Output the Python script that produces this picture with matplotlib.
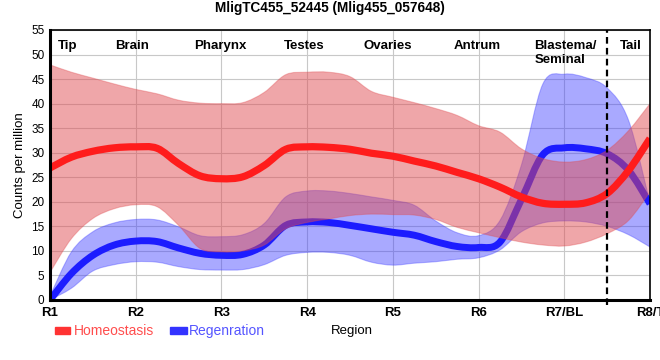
import numpy as np
import matplotlib.pyplot as plt
from matplotlib.patches import Rectangle, PathPatch
from matplotlib.path import Path

# positions along the body axis (R1 = 1 ... R8/T = 8), quarter steps
pos = np.linspace(1, 8, 29)

homeo_mean = [26.9, 29.1, 30.3, 31.0, 31.2, 30.9, 27.8, 25.3, 24.7, 25.1, 27.4, 30.7, 31.2, 31.1, 30.7,
              29.9, 29.3, 28.3, 27.3, 26.0, 24.7, 23.0, 21.0, 19.7, 19.5, 19.8, 21.7, 26.4, 32.9]
homeo_upper = [47.9, 46.4, 45.2, 44.0, 42.9, 42.0, 40.7, 40.1, 40.0, 40.2, 42.3, 45.9, 46.4, 46.4, 45.5,
               42.5, 41.3, 40.2, 39.0, 37.6, 35.5, 34.2, 30.8, 28.8, 28.1, 28.6, 30.5, 34.5, 40.0]
homeo_lower = [5.6, 12.5, 16.6, 18.6, 19.4, 19.0, 15.2, 10.5, 9.8, 10.0, 11.2, 14.5, 15.8, 16.5, 17.2,
               17.5, 17.4, 17.3, 16.4, 14.8, 13.7, 12.7, 11.8, 11.2, 11.0, 11.8, 13.5, 16.2, 22.0]

regen_mean = [0.0, 5.4, 9.1, 11.2, 12.0, 11.9, 10.6, 9.5, 9.1, 9.3, 11.2, 15.2, 15.9, 15.8, 15.2,
              14.5, 13.8, 13.2, 11.9, 10.9, 10.7, 11.8, 20.5, 29.6, 31.0, 30.8, 29.8, 26.4, 19.6]
regen_upper = [0.8, 9.8, 13.9, 15.7, 16.4, 16.3, 14.9, 13.1, 12.9, 13.3, 15.6, 21.0, 22.2, 22.2, 21.7,
               21.0, 20.3, 19.3, 16.1, 13.7, 13.1, 16.2, 27.5, 44.0, 46.0, 45.3, 43.2, 36.6, 19.8]
regen_lower = [0.0, 2.4, 5.9, 7.2, 7.8, 7.7, 6.8, 6.2, 6.1, 6.2, 7.2, 9.1, 9.7, 9.7, 9.1,
               7.7, 7.1, 7.5, 7.8, 8.3, 8.6, 10.2, 13.9, 15.7, 16.1, 15.9, 15.0, 13.3, 10.8]

tick_pos = [1, 2, 3, 4, 5, 6, 7, 8]
tick_labels = ['R1', 'R2', 'R3', 'R4', 'R5', 'R6', 'R7/BL', 'R8/T']
region_names = ['Tip', 'Brain', 'Pharynx', 'Testes', 'Ovaries', 'Antrum', 'Tail']
region_pos = [1.21, 1.96, 2.99, 3.96, 4.94, 5.98, 7.78]
blastema_pos = 6.65
split_pos = 7.5

narrow = ['Liberation Sans Narrow', 'Liberation Sans', 'DejaVu Sans']
arial = ['Liberation Sans', 'DejaVu Sans']


def curve_parts(x, y):
    """Bezier segments through the points (catmull-rom style, like the smoothed chart)"""
    p = np.column_stack([x, y]).astype(float)
    ext = np.vstack([p[0], p, p[-1]])
    verts, codes = [], []
    for i in range(len(p) - 1):
        p0, p1, p2, p3 = ext[i], ext[i + 1], ext[i + 2], ext[i + 3]
        c1 = p1 + (p2 - p0) / 6
        c2 = p2 - (p3 - p1) / 6
        verts += [c1, c2, p2]
        codes += [Path.CURVE4] * 3
    return verts, codes


def smooth_line(ax, x, y, **kw):
    v, c = curve_parts(x, y)
    path = Path([(x[0], y[0])] + v, [Path.MOVETO] + c)
    ax.add_patch(PathPatch(path, fill=False, **kw))


def smooth_band(ax, x, lo, hi, **kw):
    v1, c1 = curve_parts(x, hi)
    v2, c2 = curve_parts(x[::-1], lo[::-1])
    verts = [(x[0], hi[0])] + v1 + [(x[-1], lo[-1])] + v2 + [(x[0], hi[0])]
    codes = [Path.MOVETO] + c1 + [Path.LINETO] + c2 + [Path.CLOSEPOLY]
    ax.add_patch(PathPatch(Path(verts, codes), **kw))


fig = plt.figure(figsize=(6.6, 3.6), dpi=100)
ax = fig.add_axes([50/660, 60/360, 600/660, 270/360])

red_line = '#ff1c1c'
blue_line = '#1c1cff'
red_fill = '#e04b50'
blue_fill = '#3c3cff'

hm, hu, hl = np.array(homeo_mean), np.array(homeo_upper), np.array(homeo_lower)
rm, ru, rl = np.array(regen_mean), np.array(regen_upper), np.array(regen_lower)

# blue first, red band drawn over the blue line (as in the original)
smooth_band(ax, pos, rl, ru, facecolor=blue_fill, alpha=0.44, lw=0, zorder=2)
smooth_line(ax, pos, ru, edgecolor=blue_fill, alpha=0.35, lw=0.8, zorder=2)
smooth_line(ax, pos, rl, edgecolor=blue_fill, alpha=0.35, lw=0.8, zorder=2)
smooth_line(ax, pos, rm, edgecolor=blue_line, lw=5.0, capstyle='butt', joinstyle='round', zorder=3)

smooth_band(ax, pos, hl, hu, facecolor=red_fill, alpha=0.49, lw=0, zorder=4)
smooth_line(ax, pos, hu, edgecolor=red_fill, alpha=0.35, lw=0.8, zorder=4)
smooth_line(ax, pos, hl, edgecolor=red_fill, alpha=0.35, lw=0.8, zorder=4)
smooth_line(ax, pos, hm, edgecolor=red_line, lw=5.2, capstyle='butt', joinstyle='round', zorder=5)

ax.plot([split_pos, split_pos], [-1.1, 55], color='black', lw=1.6, ls=(0, (3, 1.9)),
        clip_on=False, zorder=6)

ax.set_xlim(1, 8)
ax.set_ylim(0, 55)
ax.set_yticks(np.arange(0, 56, 5))
ax.set_xticks(tick_pos)
ax.set_xticklabels(tick_labels, family=narrow, fontsize=9.5, fontweight='bold')
for lab in ax.get_yticklabels():
    lab.set_family(narrow)
    lab.set_fontsize(8.5)
ax.tick_params(length=0, pad=4)
ax.tick_params(axis='x', pad=5)
ax.grid(True, color='#c8c8c8', lw=0.8, zorder=0)
ax.set_axisbelow(True)

for side in ['left', 'bottom']:
    ax.spines[side].set_linewidth(2.2)
for side in ['top', 'right']:
    ax.spines[side].set_linewidth(1.2)
for sp in ax.spines.values():
    sp.set_zorder(7)

for name, p in zip(region_names, region_pos):
    ax.text(p, 51.2, name, ha='center', va='baseline', fontsize=9.5, fontweight='bold', family=arial, zorder=8)
ax.text(blastema_pos, 51.2, 'Blastema/', ha='left', va='baseline', fontsize=9.5, fontweight='bold', family=arial, zorder=8)
ax.text(blastema_pos, 48.2, 'Seminal', ha='left', va='baseline', fontsize=9.5, fontweight='bold', family=arial, zorder=8)

fig.text(330/660, 1 - 8/360, 'MligTC455_52445 (Mlig455_057648)', ha='center', va='center',
         fontsize=9.8, fontweight='bold', family=arial)
fig.text(20/660, 1 - 165/360, 'Counts per million', rotation=90, ha='center', va='center',
         fontsize=9.5, family=arial)
fig.text(352/660, 1 - 331/360, 'Region', ha='center', va='center', fontsize=9.5, family=narrow)

# legend
fig.patches.append(Rectangle((55/660, 1 - 334/360), 15/660, 7/360, transform=fig.transFigure,
                             color='#ff3333', figure=fig))
fig.text(74/660, 1 - 331/360, 'Homeostasis', ha='left', va='center', fontsize=10,
         color='#ff4d4d', family=narrow)
fig.patches.append(Rectangle((170/660, 1 - 334/360), 17/660, 7/360, transform=fig.transFigure,
                             color='#3333ff', figure=fig))
fig.text(189/660, 1 - 331/360, 'Regenration', ha='left', va='center', fontsize=10,
         color='#5555ff', family=narrow)

fig.savefig('out.png', dpi=100)
